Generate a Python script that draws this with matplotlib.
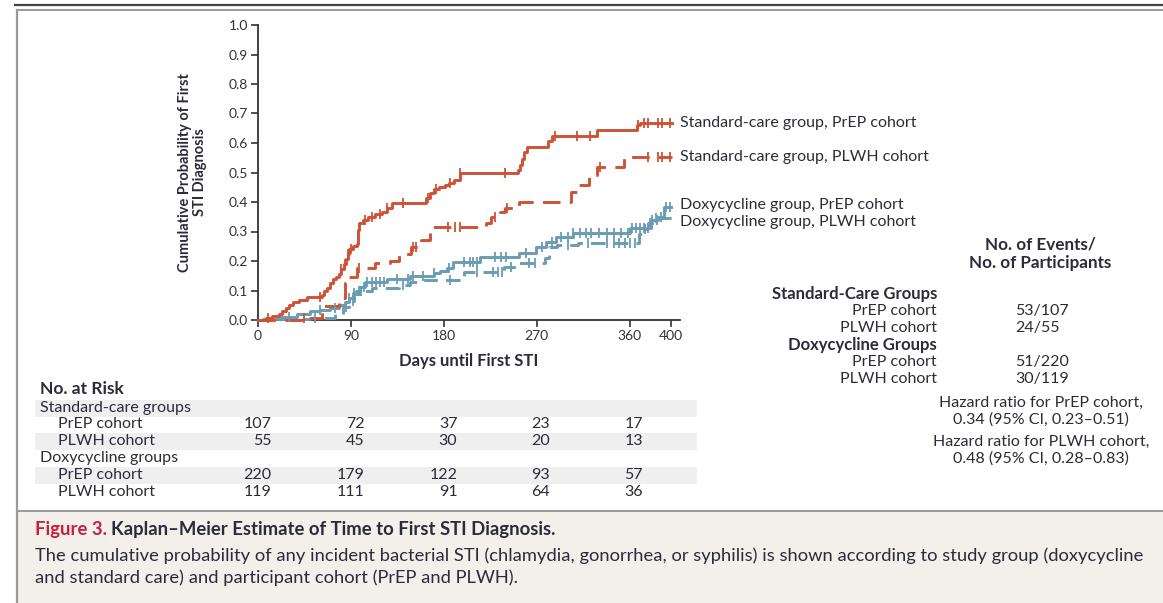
import numpy as np
import matplotlib.pyplot as plt
from matplotlib.patches import Rectangle
from matplotlib.lines import Line2D

W, H = 1163, 603
plt.rcParams['font.family'] = ['Lato', 'DejaVu Sans']

# step curves: day of each event and cumulative probability after it
sc_prep_t = [0, 8, 14, 20, 23, 27, 30, 34, 40, 47, 62, 64, 67, 70, 73, 76, 78, 80, 83, 85,
             87, 88, 92, 96, 97, 98, 102, 107, 113, 120, 125, 130, 163, 167, 170, 175, 181, 185, 190, 196,
             252, 254, 256, 258, 261, 281, 285, 328, 367, 370]
sc_prep_p = [0, .006, .012, .02, .03, .04, .05, .06, .068, .077, .086, .097, .11, .126, .138, .145, .156, .173, .19, .207,
             .224, .241, .252, .258, .304, .330, .338, .349, .36, .367, .378, .396, .415, .432, .443, .452, .458, .465, .475, .497,
             .507, .524, .547, .57, .588, .606, .624, .645, .66, .668]
sc_prep_cens = [10, 60, 80, 84, 87, 90, 104, 110, 118, 125, 140, 165, 172, 186, 196, 239, 288, 309, 322,
                368, 374, 378, 387, 391, 399]

sc_plwh_t = [0, 45, 62, 78, 84, 88, 96, 113, 128, 137, 148, 158, 167, 221, 226, 234, 239, 253, 303, 309,
             321, 328, 354]
sc_plwh_p = [0, .006, .047, .074, .125, .147, .175, .193, .2, .224, .247, .272, .316, .33, .348, .366, .378, .4, .434, .457,
             .49, .52, .554]
sc_plwh_cens = [45, 98, 150, 153, 184, 191, 196, 230, 241, 331, 378, 387, 391, 399]

dx_prep_t = [0, 5, 20, 38, 50, 60, 70, 78, 84, 88, 92, 95, 99, 104, 125, 147, 170, 176, 183, 189,
             215, 253, 269, 279, 289, 305, 360, 381, 387, 393]
dx_prep_p = [0, .005, .01, .02, .03, .035, .04, .05, .06, .075, .09, .1, .113, .128, .139, .15, .158, .165, .176, .198,
             .215, .227, .248, .265, .282, .294, .311, .339, .35, .384]
dx_prep_cens = [30, 60, 75, 88, 93, 98, 103, 106, 110, 114, 118, 122, 135, 145, 150, 160, 170, 185, 200, 205,
                208, 212, 230, 235, 240, 260, 275, 285, 293, 300, 305, 312, 318, 323, 330, 338, 345, 352, 358,
                362, 366, 370, 374, 378, 382, 386, 390, 395, 399]

dx_plwh_t = [0, 12, 50, 75, 82, 88, 93, 98, 110, 137, 147, 160, 200, 238, 250, 278, 282, 290, 310, 369,
             372, 378, 384]
dx_plwh_p = [0, .004, .008, .02, .043, .065, .088, .1, .11, .117, .128, .134, .162, .179, .194, .21, .248, .254, .262, .29,
             .31, .33, .345]
dx_plwh_cens = [55, 85, 92, 100, 140, 186, 212, 228, 232, 236, 245, 262, 268, 300, 320, 338, 345, 350, 355,
                360, 365, 375, 380, 385]

curve_labels = ["Standard-care group, PrEP cohort", "Standard-care group, PLWH cohort",
                "Doxycycline group, PrEP cohort", "Doxycycline group, PLWH cohort"]
label_y = [0.667, 0.554, 0.39, 0.332]

risk_days = [0, 90, 180, 270, 360]
risk_sc_prep = [107, 72, 37, 23, 17]
risk_sc_plwh = [55, 45, 30, 20, 13]
risk_dx_prep = [220, 179, 122, 93, 57]
risk_dx_plwh = [119, 111, 91, 64, 36]

events = ["53/107", "24/55", "51/220", "30/119"]

RED = '#cf5236'
BLUE = '#6a9cb3'
TXT = '#2b2b3a'
FS = 11.5

fig = plt.figure(figsize=(W / 100, H / 100), dpi=100)


def fx(x):
    return x / W


def fy(y):
    return 1 - y / H


def put(x, y, s, **kw):
    kw.setdefault('color', TXT)
    kw.setdefault('va', 'center')
    kw.setdefault('fontsize', FS)
    return fig.text(fx(x), fy(y), s, **kw)


# frame lines and caption panel
fig.add_artist(Line2D([fx(15), 1], [fy(5), fy(5)], color='#444444', lw=1.6))
fig.add_artist(Line2D([fx(17), 1], [fy(9.7), fy(9.7)], color='#999999', lw=1.4))
fig.add_artist(Line2D([fx(17), fx(17)], [fy(9.7), 0], color='#999999', lw=1.6))
fig.add_artist(Rectangle((fx(17.8), 0), 1, fy(511), facecolor='#f3f0eb', edgecolor='none', zorder=0))
fig.add_artist(Line2D([fx(17), 1], [fy(511), fy(511)], color='#999999', lw=1.4))

# main axes
x_max = 409
ax = fig.add_axes([fx(258), fy(320), (x_max * 1.0325) / W, 295 / H])
ax.set_xlim(0, x_max)
ax.set_ylim(0, 1.0)
for s in ['top', 'right']:
    ax.spines[s].set_visible(False)
for s in ['left', 'bottom']:
    ax.spines[s].set_color('#333333')
    ax.spines[s].set_linewidth(1.3)
ax.set_xticks([0, 90, 180, 270, 360, 400])
ax.set_yticks(np.arange(0, 1.01, 0.1))
ax.set_yticklabels([f"{v:.1f}" for v in np.arange(0, 1.01, 0.1)])
ax.tick_params(direction='out', length=5, width=1.2, colors='#333333', labelsize=10, pad=2)
ax.set_xlabel("Days until First STI", fontsize=12, fontweight='bold', color=TXT, labelpad=8)
ax.set_ylabel("Cumulative Probability of First\nSTI Diagnosis", fontsize=10.5, fontweight='bold',
              color=TXT, labelpad=16, linespacing=1.05)


def km(t, p, cens, t_end, color, dashes):
    tt = list(t) + [t_end]
    pp = list(p) + [p[-1]]
    ls = (0, dashes) if dashes else '-'
    ax.step(tt, pp, where='post', color=color, lw=2.1, linestyle=ls, clip_on=False, zorder=3)
    idx = np.searchsorted(t, cens, side='right') - 1
    cy = np.asarray(p)[idx]
    ax.plot(cens, cy, linestyle='none', marker='|', markersize=7, mew=1.3, color=color,
            clip_on=False, zorder=4)


km(dx_plwh_t, dx_plwh_p, dx_plwh_cens, 401, BLUE, (5, 2.8))
km(dx_prep_t, dx_prep_p, dx_prep_cens, 400, BLUE, None)
km(sc_plwh_t, sc_plwh_p, sc_plwh_cens, 401, RED, (6, 3.2))
km(sc_prep_t, sc_prep_p, sc_prep_cens, 401, RED, None)

for lab, yv in zip(curve_labels, label_y):
    ax.text(408.5, yv, lab, fontsize=FS, color=TXT, va='center', ha='left', clip_on=False)

# events summary block
put(1040, 254, "No. of Events/\nNo. of Participants", fontsize=12.3, fontweight='bold', ha='center',
    linespacing=1.2)
put(937, 294, "Standard-Care Groups", fontsize=12, fontweight='bold', ha='right')
put(937, 311, "PrEP cohort", ha='right')
put(937, 328, "PLWH cohort", ha='right')
put(937, 345, "Doxycycline Groups", fontsize=12, fontweight='bold', ha='right')
put(937, 362, "PrEP cohort", ha='right')
put(937, 379, "PLWH cohort", ha='right')
for yv, ev in zip([311, 328, 362, 379], events):
    put(1015, yv, ev, ha='left')
put(1041, 411.5, "Hazard ratio for PrEP cohort,\n0.34 (95% CI, 0.23\u20130.51)",
    ha='center', linespacing=1.2)
put(1041, 450, "Hazard ratio for PLWH cohort,\n0.48 (95% CI, 0.28\u20130.83)",
    ha='center', linespacing=1.2)

# number-at-risk table
row_y = [408, 424, 441, 458, 475, 492]
for yv in [408, 441, 475]:
    fig.add_artist(Rectangle((fx(35), fy(yv + 8.5)), fx(697) - fx(35), 17 / H,
                             facecolor='#efefef', edgecolor='none', zorder=0))
put(40, 389, "No. at Risk", fontsize=12.5, fontweight='bold')
put(40, row_y[0], "Standard-care groups")
put(58, row_y[1], "PrEP cohort")
put(58, row_y[2], "PLWH cohort")
put(40, row_y[3], "Doxycycline groups")
put(58, row_y[4], "PrEP cohort")
put(58, row_y[5], "PLWH cohort")
for yv, counts in zip([row_y[1], row_y[2], row_y[4], row_y[5]],
                      [risk_sc_prep, risk_sc_plwh, risk_dx_prep, risk_dx_plwh]):
    for d, n in zip(risk_days, counts):
        put(258 + (d + 13) * 1.0325, yv, str(n), ha='right')

# caption
fig_lbl = put(35, 529, "Figure 3. ", color='#c8203a', fontsize=13.3, fontweight='bold')
bb = fig_lbl.get_window_extent(renderer=fig.canvas.get_renderer())
put(bb.x1, 529, "Kaplan\u2013Meier Estimate of Time to First STI Diagnosis.", fontsize=13.3,
    fontweight='bold')
put(35, 556, "The cumulative probability of any incident bacterial STI (chlamydia, gonorrhea, or syphilis) "
    "is shown according to study group (doxycycline", fontsize=13.2)
put(35, 578, "and standard care) and participant cohort (PrEP and PLWH).", fontsize=13.2)

fig.savefig("out.png", dpi=100)
